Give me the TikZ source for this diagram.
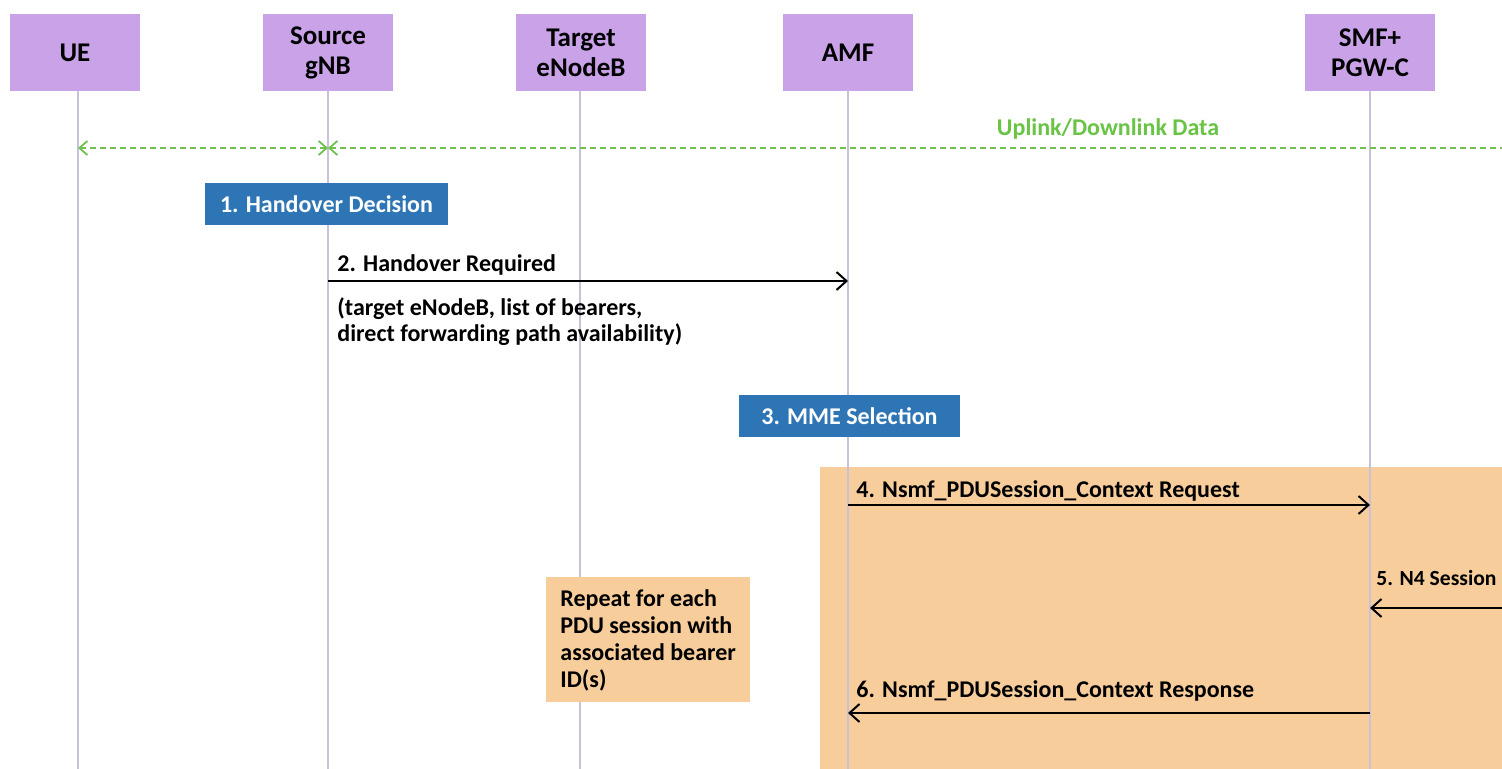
\documentclass[tikz,border=0pt]{standalone}
\usepackage{fontspec}
\setmainfont{Carlito}
\usetikzlibrary{arrows.meta}
\definecolor{hdr}{RGB}{201,162,232}
\definecolor{bluebox}{RGB}{46,117,182}
\definecolor{orangebox}{RGB}{247,205,155}
\definecolor{greenline}{RGB}{112,192,80}
\definecolor{greentext}{RGB}{105,196,70}
\definecolor{life}{RGB}{200,194,216}
\begin{document}
\begin{tikzpicture}[x=0.5pt,y=-0.5pt,
  hdrbox/.style={fill=hdr, minimum width=65pt, minimum height=38.5pt, inner sep=0pt, align=center, font=\fontsize{13.5}{15}\selectfont\bfseries},
  actbox/.style={fill=bluebox, text=white, inner sep=0pt, font=\fontsize{12}{14}\selectfont\bfseries},
  lbl/.style={anchor=base west, inner sep=0pt, font=\fontsize{12}{14}\selectfont\bfseries},
  lifeline/.style={draw=life, line width=0.6pt},
  msg/.style={draw=black, line width=1pt, -{Straight Barb[length=5pt,width=9pt,line width=1pt]}},
  data/.style={draw=greenline, line width=0.8pt, dash pattern=on 3pt off 2pt, {Straight Barb[length=4pt,width=7pt,line width=0.9pt]}-{Straight Barb[length=4pt,width=7pt,line width=0.9pt]}}
]
\useasboundingbox (0,0) rectangle (1502,769);
\fill[white] (0,0) rectangle (1502,769);

% loop region
\fill[orangebox] (820,467) rectangle (1502,769);

% header boxes
\node[hdrbox] (ue)   at (75,52.5)   {UE};
\node[hdrbox] (gnb)  at (328,52.5)  {Source\\gNB};
\node[hdrbox] (enb)  at (581,52.5)  {Target\\eNodeB};
\node[hdrbox] (amf)  at (848,52.5)  {AMF};
\node[hdrbox] (smf)  at (1370,52.5) {SMF+\\PGW-C};

% lifeline ends
\coordinate (ueEnd)  at (78,769);
\coordinate (gnbEnd) at (328,769);
\coordinate (enbEnd) at (580,769);
\coordinate (amfEnd) at (848,769);
\coordinate (smfEnd) at (1370,769);

\draw[lifeline] (ue.south -| ueEnd) -- (ueEnd);
\draw[lifeline] (gnb.south) -- (gnbEnd);
\draw[lifeline] (enb.south -| enbEnd) -- (enbEnd);
\draw[lifeline] (amf.south) -- (amfEnd);
\draw[lifeline] (smf.south) -- (smfEnd);

% uplink/downlink data
\coordinate (dataEdge) at (1502,148);
\draw[data] (ueEnd |- 0,148) -- (gnb |- 0,148);
\draw[data, {Straight Barb[length=4pt,width=7pt,line width=0.9pt]}-] (gnb |- 0,148) -- (dataEdge);
\node[font=\fontsize{12}{14}\selectfont\bfseries, text=greentext, inner sep=0pt] (datalbl) at (1108,129) {Uplink/Downlink Data};

% 1. Handover Decision
\node[actbox, minimum width=121.5pt, minimum height=21pt] (hd) at (326.5,204) {1. Handover Decision};

% 2. Handover Required
\draw[msg] (gnb |- 0,281) -- (amf |- 0,281);
\node[lbl] (m2) at (337,272) {2. Handover Required};
\node[lbl] (m2a) at (337,316) {(target eNodeB, list of bearers,};
\node[lbl] (m2b) at (337,342) {direct forwarding path availability)};

% 3. MME Selection
\node[actbox, minimum width=110.5pt, minimum height=21pt] (mme) at (849.5,416) {3. MME Selection};

% 4.
\draw[msg] (amf |- 0,505) -- (smf |- 0,505);
\node[lbl] (m4) at (856,497) {4. Nsmf\_PDUSession\_Context Request};

% 5.
\coordinate (n4Edge) at (1502,608);
\draw[msg] (n4Edge) -- (smf |- 0,608);
\node[lbl, font=\fontsize{10.8}{13}\selectfont\bfseries] (m5) at (1376,585) {5. N4 Session};

% 6.
\draw[msg] (smf |- 0,713) -- (amf |- 0,713);
\node[lbl] (m6) at (856,697) {6. Nsmf\_PDUSession\_Context Response};

% repeat note
\node[fill=orangebox, minimum width=102pt, minimum height=62.5pt, inner sep=0pt] (rep) at (648,639.5) {};
\node[anchor=north west, align=left, inner sep=0pt, font=\fontsize{12}{13.5}\selectfont\bfseries] (reptxt) at (560,589)
  {Repeat for each\\PDU session with\\associated bearer\\ID(s)};
\end{tikzpicture}
\end{document}
